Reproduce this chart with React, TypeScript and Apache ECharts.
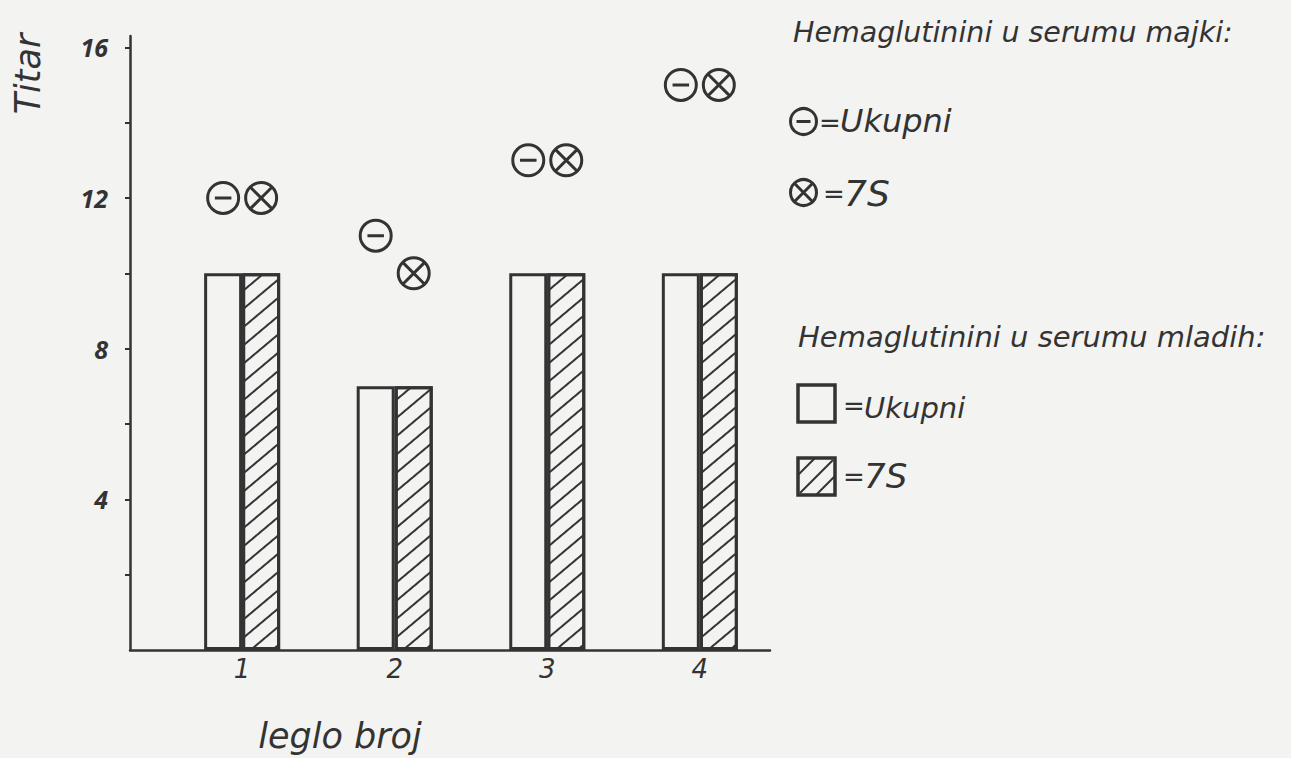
import React, { useEffect, useRef } from 'react';
import * as echarts from 'echarts';

// Litter numbers (x positions on the value axis)
const litters = [1, 2, 3, 4];
// Hemaglutinini u serumu mladih (bars)
const youngTotal = [10, 7, 10, 10];
const young7S = [10, 7, 10, 10];
// Hemaglutinini u serumu majki (symbols)
const motherTotal = [12, 11, 13, 15];
const mother7S = [12, 10, 13, 15];
// Axis ticks / labels
const yTickValues = [2, 4, 6, 8, 10, 12, 14, 16];
const yLabelValues = [4, 8, 12, 16];

const INK = '#333333';
const BG = '#f3f3f1';
const FONT = '"DejaVu Sans", "Open Sans", sans-serif';
const TICKFONT = '"Open Sans", "DejaVu Sans", sans-serif';

const MINUS_CIRCLE = 'path://M1,16A15,15 0 1,1 31,16A15,15 0 1,1 1,16Z M8,16L24,16';
const CROSS_CIRCLE =
  'path://M1,16A15,15 0 1,1 31,16A15,15 0 1,1 1,16Z M5.4,5.4L26.6,26.6 M26.6,5.4L5.4,26.6';

const hatchDecal = {
  symbol: 'rect',
  symbolSize: 1,
  dashArrayX: [1, 0],
  dashArrayY: [2, 12],
  rotation: -(Math.PI * 40) / 180,
  color: INK,
  backgroundColor: 'rgba(0,0,0,0)',
};

const textStyle = (size: number) => ({
  fill: INK,
  font: `italic ${size}px ${FONT}`,
});

const txt = (x: number, y: number, text: string, size: number, align = 'left') => ({
  type: 'text',
  x,
  y,
  style: { ...textStyle(size), text, align, verticalAlign: 'middle' },
});

export default function App() {
  const ref = useRef<HTMLDivElement>(null);

  useEffect(() => {
    if (!ref.current) return;
    const chart = echarts.init(ref.current, undefined, { renderer: 'svg' });

    const option: any = {
      animation: false,
      backgroundColor: BG,
      grid: { left: 130, right: 521, top: 36, bottom: 108, containLabel: false },
      xAxis: {
        type: 'value',
        min: 0.265,
        max: 4.46,
        axisLine: { show: true, onZero: false, lineStyle: { color: INK, width: 2.5 } },
        axisTick: { show: false },
        splitLine: { show: false },
        axisLabel: {
          customValues: litters,
          formatter: (v: number) => String(v),
          color: INK,
          fontSize: 26,
          fontStyle: 'italic',
          fontFamily: FONT,
          margin: 6,
        },
      },
      yAxis: {
        type: 'value',
        min: 0,
        max: 16.3,
        axisLine: { show: true, lineStyle: { color: INK, width: 2.5 } },
        axisTick: {
          show: true,
          customValues: yTickValues,
          length: 5,
          lineStyle: { color: INK, width: 2 },
        },
        splitLine: { show: false },
        axisLabel: {
          customValues: yLabelValues,
          formatter: (v: number) => String(v),
          color: INK,
          fontSize: 25,
          fontStyle: 'italic',
          fontWeight: 'bold',
          fontFamily: TICKFONT,
          margin: 22,
        },
      },
      series: [
        {
          name: 'Ukupni (mladi)',
          type: 'bar',
          barWidth: 38,
          barGap: '0%',
          data: litters.map((x, i) => [x, youngTotal[i]]),
          itemStyle: { color: BG, borderColor: INK, borderWidth: 3 },
        },
        {
          name: '7S (mladi)',
          type: 'bar',
          barWidth: 38,
          barGap: '0%',
          data: litters.map((x, i) => [x, young7S[i]]),
          itemStyle: { color: BG, borderColor: INK, borderWidth: 3, decal: hatchDecal },
        },
        {
          name: 'Ukupni (majke)',
          type: 'scatter',
          symbol: MINUS_CIRCLE,
          symbolSize: 31,
          symbolOffset: [-19, 0],
          data: litters.map((x, i) => [x, motherTotal[i]]),
          itemStyle: { color: 'rgba(0,0,0,0)', borderColor: INK, borderWidth: 3, opacity: 1 },
          z: 5,
        },
        {
          name: '7S (majke)',
          type: 'scatter',
          symbol: CROSS_CIRCLE,
          symbolSize: 31,
          symbolOffset: [19, 0],
          data: litters.map((x, i) => [x, mother7S[i]]),
          itemStyle: { color: 'rgba(0,0,0,0)', borderColor: INK, borderWidth: 3, opacity: 1 },
          z: 5,
        },
      ],
      graphic: [
        {
          type: 'text',
          x: 28,
          y: 74,
          rotation: Math.PI / 2,
          style: { ...textStyle(35), text: 'Titar', align: 'center', verticalAlign: 'middle' },
        },
        txt(340, 736, 'leglo broj', 35, 'center'),
        txt(793, 32, 'Hemaglutinini u serumu majki:', 28.5),
        // ⊖ legend
        {
          type: 'group',
          x: 803.5,
          y: 121.5,
          children: [
            { type: 'circle', shape: { cx: 0, cy: 0, r: 13 }, style: { fill: 'none', stroke: INK, lineWidth: 3 } },
            { type: 'line', shape: { x1: -7, y1: 0, x2: 7, y2: 0 }, style: { stroke: INK, lineWidth: 3 } },
          ],
        },
        txt(819, 123, '=', 26),
        txt(840, 121, 'Ukupni', 32),
        // ⊗ legend
        {
          type: 'group',
          x: 803.5,
          y: 192.5,
          children: [
            { type: 'circle', shape: { cx: 0, cy: 0, r: 13 }, style: { fill: 'none', stroke: INK, lineWidth: 3 } },
            { type: 'line', shape: { x1: -9.2, y1: -9.2, x2: 9.2, y2: 9.2 }, style: { stroke: INK, lineWidth: 3 } },
            { type: 'line', shape: { x1: 9.2, y1: -9.2, x2: -9.2, y2: 9.2 }, style: { stroke: INK, lineWidth: 3 } },
          ],
        },
        txt(823, 194, '=', 26),
        txt(844, 193, '7S', 36),
        txt(798, 337, 'Hemaglutinini u serumu mladih:', 29),
        // □ legend
        {
          type: 'rect',
          shape: { x: 798, y: 385, width: 37, height: 37 },
          style: { fill: 'none', stroke: INK, lineWidth: 3.5 },
        },
        txt(843, 406, '=', 26),
        txt(864, 408, 'Ukupni', 29),
        // hatched legend
        {
          type: 'group',
          x: 798,
          y: 458,
          children: [
            { type: 'line', shape: { x1: 0, y1: 17, x2: 17, y2: 0 }, style: { stroke: INK, lineWidth: 2 } },
            { type: 'line', shape: { x1: 2, y1: 35, x2: 35, y2: 2 }, style: { stroke: INK, lineWidth: 2 } },
            { type: 'line', shape: { x1: 18, y1: 37, x2: 37, y2: 18 }, style: { stroke: INK, lineWidth: 2 } },
            { type: 'rect', shape: { x: 0, y: 0, width: 37, height: 37 }, style: { fill: 'none', stroke: INK, lineWidth: 3.5 } },
          ],
        },
        txt(843, 477, '=', 26),
        txt(864, 476, '7S', 34),
      ],
    };

    chart.setOption(option);
    return () => chart.dispose();
  }, []);

  return (
    <div
      ref={ref}
      style={{ position: 'absolute', left: 0, top: 0, width: 1291, height: 758 }}
    />
  );
}
